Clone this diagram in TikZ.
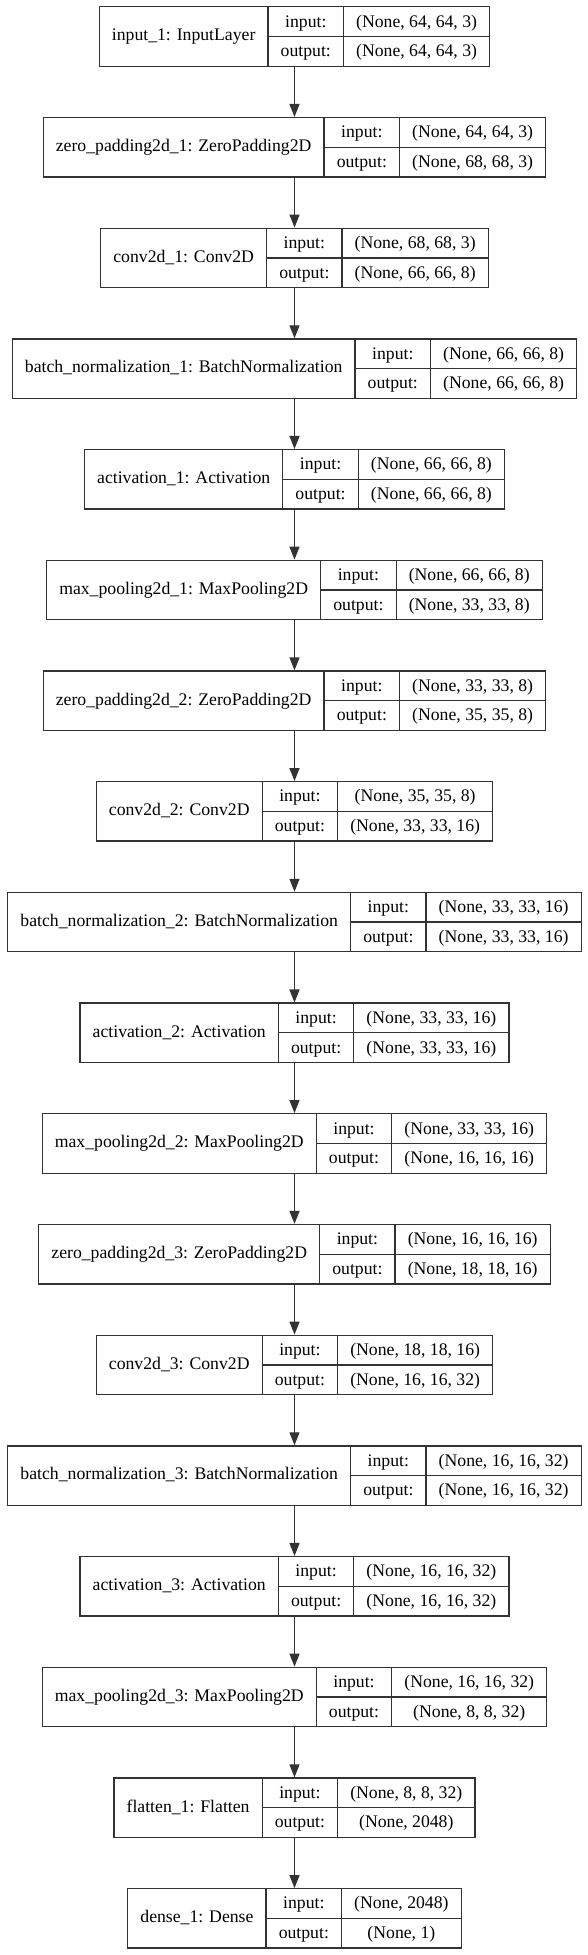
\documentclass[tikz,border=0pt]{standalone}
\usepackage{fontspec}
\setmainfont{Liberation Serif}
\usepackage[table]{xcolor}
\usepackage{tikz}
\usetikzlibrary{positioning}
\usetikzlibrary{arrows.meta}

\definecolor{recline}{HTML}{333333}
\setlength{\arrayrulewidth}{1.3pt}
\setlength{\tabcolsep}{12pt}
\arrayrulecolor{recline}
\newcommand{\rowstrut}{\rule[-8.8pt]{0pt}{28.4pt}}
\newcommand{\kerasrec}[3]{%
  \begin{tabular}{|c|@{}c@{}|}\hline
    #1 & \begin{tabular}{c|c}
      input:\rowstrut & #2 \\ \hline
      output:\rowstrut & #3
    \end{tabular} \\ \hline
  \end{tabular}}

\begin{document}
\begin{tikzpicture}[
  x=1pt, y=1pt,
  node distance=50pt,
  every node/.style={font=\fontsize{17.7}{21}\selectfont},
  layer/.style={inner sep=0pt, outer sep=0pt},
  flow/.style={draw=recline, line width=1.3pt, -{Triangle[length=13pt, width=10pt]}}
]
\useasboundingbox (0,0) rectangle (588,-1955);

\node[layer] (input1) at (294.5,-36.5) {\kerasrec{input\_1: InputLayer}{(None, 64, 64, 3)}{(None, 64, 64, 3)}};
\node[layer, below=of input1] (zeropad1) {\kerasrec{zero\_padding2d\_1: ZeroPadding2D}{(None, 64, 64, 3)}{(None, 68, 68, 3)}};
\node[layer, below=of zeropad1] (conv1) {\kerasrec{conv2d\_1: Conv2D}{(None, 68, 68, 3)}{(None, 66, 66, 8)}};
\node[layer, below=of conv1] (batchnorm1) {\kerasrec{batch\_normalization\_1: BatchNormalization}{(None, 66, 66, 8)}{(None, 66, 66, 8)}};
\node[layer, below=of batchnorm1] (act1) {\kerasrec{activation\_1: Activation}{(None, 66, 66, 8)}{(None, 66, 66, 8)}};
\node[layer, below=of act1] (maxpool1) {\kerasrec{max\_pooling2d\_1: MaxPooling2D}{(None, 66, 66, 8)}{(None, 33, 33, 8)}};
\node[layer, below=of maxpool1] (zeropad2) {\kerasrec{zero\_padding2d\_2: ZeroPadding2D}{(None, 33, 33, 8)}{(None, 35, 35, 8)}};
\node[layer, below=of zeropad2] (conv2) {\kerasrec{conv2d\_2: Conv2D}{(None, 35, 35, 8)}{(None, 33, 33, 16)}};
\node[layer, below=of conv2] (batchnorm2) {\kerasrec{batch\_normalization\_2: BatchNormalization}{(None, 33, 33, 16)}{(None, 33, 33, 16)}};
\node[layer, below=of batchnorm2] (act2) {\kerasrec{activation\_2: Activation}{(None, 33, 33, 16)}{(None, 33, 33, 16)}};
\node[layer, below=of act2] (maxpool2) {\kerasrec{max\_pooling2d\_2: MaxPooling2D}{(None, 33, 33, 16)}{(None, 16, 16, 16)}};
\node[layer, below=of maxpool2] (zeropad3) {\kerasrec{zero\_padding2d\_3: ZeroPadding2D}{(None, 16, 16, 16)}{(None, 18, 18, 16)}};
\node[layer, below=of zeropad3] (conv3) {\kerasrec{conv2d\_3: Conv2D}{(None, 18, 18, 16)}{(None, 16, 16, 32)}};
\node[layer, below=of conv3] (batchnorm3) {\kerasrec{batch\_normalization\_3: BatchNormalization}{(None, 16, 16, 32)}{(None, 16, 16, 32)}};
\node[layer, below=of batchnorm3] (act3) {\kerasrec{activation\_3: Activation}{(None, 16, 16, 32)}{(None, 16, 16, 32)}};
\node[layer, below=of act3] (maxpool3) {\kerasrec{max\_pooling2d\_3: MaxPooling2D}{(None, 16, 16, 32)}{(None, 8, 8, 32)}};
\node[layer, below=of maxpool3] (flatten1) {\kerasrec{flatten\_1: Flatten}{(None, 8, 8, 32)}{(None, 2048)}};
\node[layer, below=of flatten1] (dense1) {\kerasrec{dense\_1: Dense}{(None, 2048)}{(None, 1)}};

% data flow
\draw[flow] (input1) -- (zeropad1);
\draw[flow] (zeropad1) -- (conv1);
\draw[flow] (conv1) -- (batchnorm1);
\draw[flow] (batchnorm1) -- (act1);
\draw[flow] (act1) -- (maxpool1);
\draw[flow] (maxpool1) -- (zeropad2);
\draw[flow] (zeropad2) -- (conv2);
\draw[flow] (conv2) -- (batchnorm2);
\draw[flow] (batchnorm2) -- (act2);
\draw[flow] (act2) -- (maxpool2);
\draw[flow] (maxpool2) -- (zeropad3);
\draw[flow] (zeropad3) -- (conv3);
\draw[flow] (conv3) -- (batchnorm3);
\draw[flow] (batchnorm3) -- (act3);
\draw[flow] (act3) -- (maxpool3);
\draw[flow] (maxpool3) -- (flatten1);
\draw[flow] (flatten1) -- (dense1);

\end{tikzpicture}
\end{document}
